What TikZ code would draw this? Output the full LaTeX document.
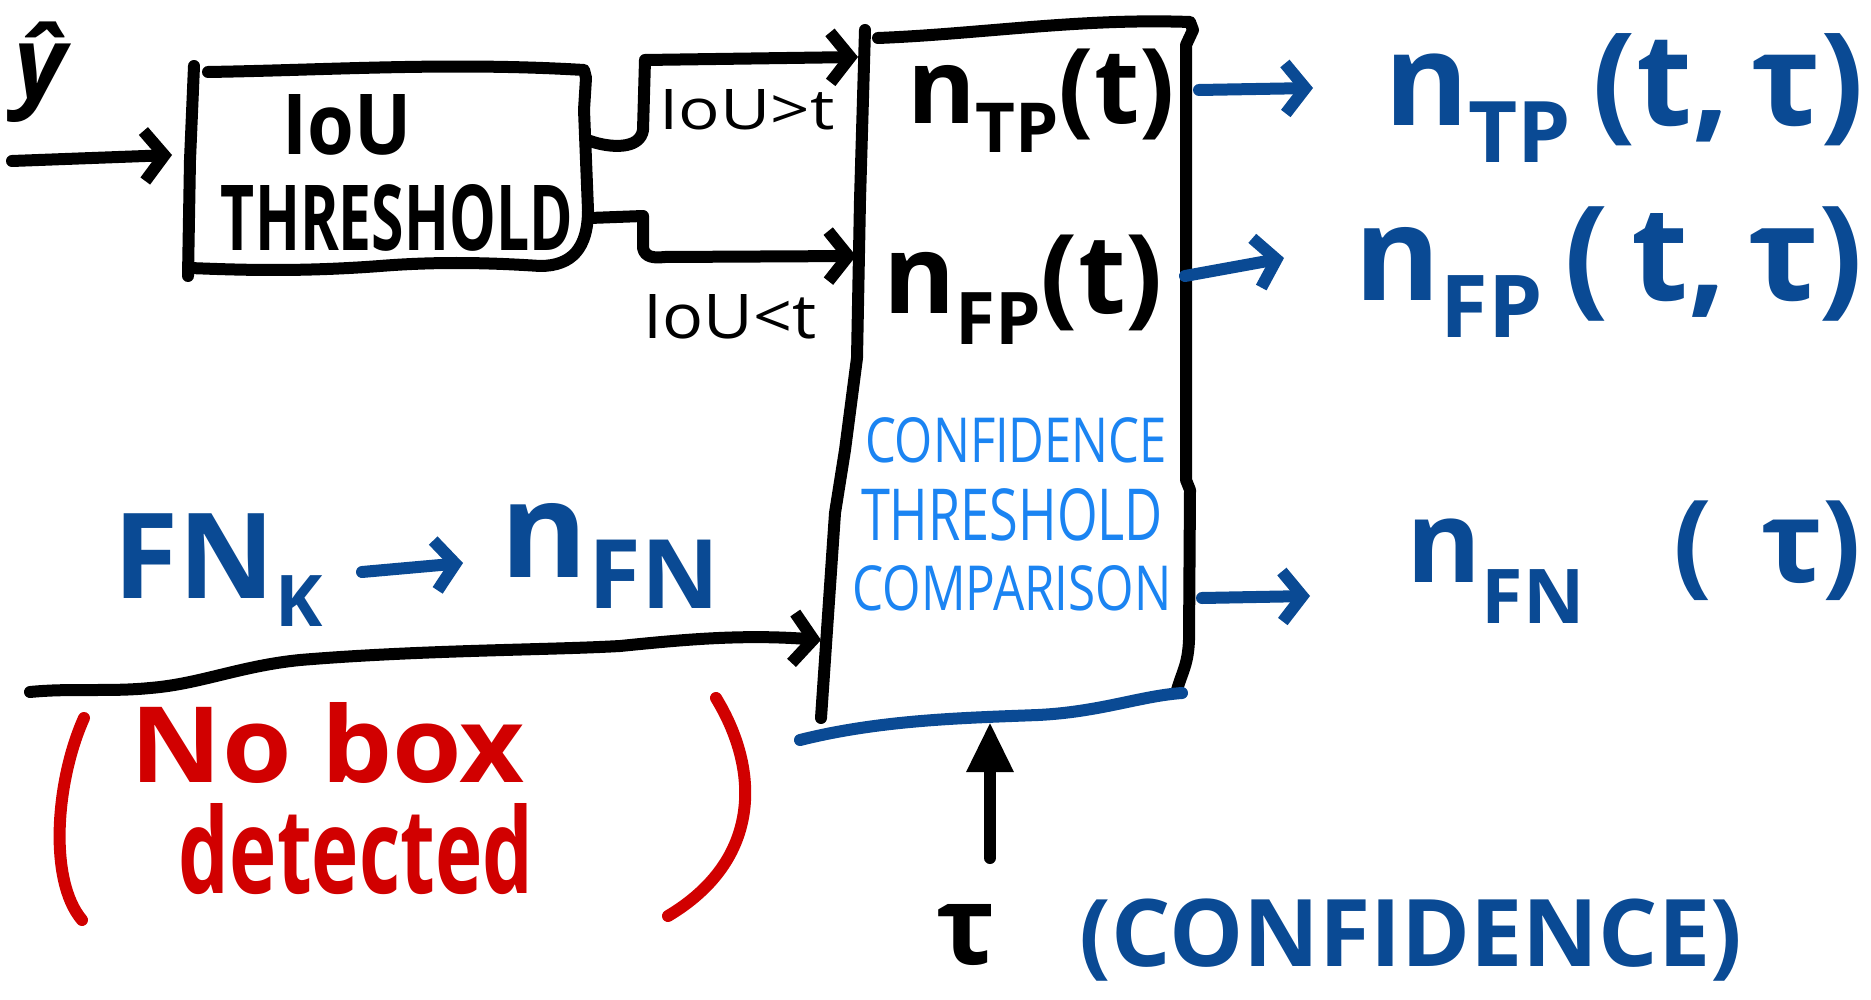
\documentclass[tikz,border=0pt]{standalone}
\usepackage{fontspec}
\usepackage{graphicx}
\setmainfont{Open Sans}
\usetikzlibrary{arrows.meta}
\definecolor{inkblue}{HTML}{0A4A94}
\definecolor{lightblue}{HTML}{1B84F2}
\definecolor{inkred}{HTML}{D10000}
\newcommand\fsz[1]{\fontsize{#1}{#1}\selectfont}
\newcommand\sbs[3]{\raisebox{-#3pt}{\fsz{#2}#1}}
\newcommand\fitwh[3]{\resizebox{#1pt}{#2pt}{#3}}
\newcommand\fitw[2]{\resizebox{#1pt}{!}{#2}}
\tikzset{
  pen/.style={line width=12pt, line cap=round, line join=round},
  barb/.style={-{Straight Barb[length=20pt,width=50pt,line width=12pt]}},
  lbl/.style={inner sep=0pt, anchor=center, font=\fsz{50}\bfseries},
  thin/.style={font=\fsz{50}\mdseries},
}
\begin{document}
\begin{tikzpicture}[x=1pt,y=-1pt]
\useasboundingbox[fill=white] (0,0) rectangle (1871,1000);

% ---------- IoU threshold box ----------
\draw[pen] (208,72) .. controls (330,70) and (450,62) .. (584,70) -- (586,78)
  -- (584,110) -- (588,210) .. controls (588,248) and (572,266) .. (540,266)
  .. controls (480,262) and (430,262) .. (380,266) .. controls (300,272) and (240,270) .. (190,268);
\draw[pen] (194,66) -- (190,160) -- (188,276);
\node[lbl] (iou1) at (347,125) {\fitwh{129}{60}{IoU}};
\node[lbl] (iou2) at (397,218) {\fitwh{352}{66}{THRESHOLD}};

% input
\node[lbl, font=\fsz{100}\bfseries\itshape] (yhat) at (40,72) {ŷ};
\coordinate (inS) at (12,161);
\coordinate (inE) at (172,155);
\draw[pen, barb] (inS) -- (inE);

% ---------- big box ----------
\draw[pen] (865,30) -- (860,200) -- (857,358) -- (845,450) -- (835,513) -- (821,718);
\draw[pen] (878,38) .. controls (980,34) and (1080,18) .. (1190,22) -- (1193,30)
  -- (1186,45) -- (1186,480) -- (1190,490) -- (1189,640) .. controls (1188,665) and (1182,672) .. (1177,690);
\draw[pen, inkblue] (800,740) .. controls (880,720) and (960,718) .. (1038,715)
  .. controls (1100,712) and (1140,696) .. (1182,693);

\node[lbl] (ntp) at (1041,101) {\fitw{268}{n\sbs{TP}{33}{14}(t)}};
\node[lbl] (nfp) at (1023,290) {\fitw{280}{n\sbs{FP}{33}{14}(t)}};
\node[lbl, thin, text=lightblue] (c1) at (1016,440) {\fitwh{302}{45}{CONFIDENCE}};
\node[lbl, thin, text=lightblue] (c2) at (1012,515) {\fitwh{302}{52}{THRESHOLD}};
\node[lbl, thin, text=lightblue] (c3) at (1012,588) {\fitwh{319}{45}{COMPARISON}};

% ---------- IoU branches ----------
\coordinate (tpS) at (590,141);
\coordinate (tpE) at (858,57);
\draw[pen, barb] (tpS) .. controls (610,148) and (640,150) .. (643,130) -- (645,60) -- (tpE);
\node[lbl, thin] (gt) at (747,110) {\fitwh{175}{40}{IoU>t}};
\coordinate (fpS) at (590,218);
\coordinate (fpE) at (856,256);
\draw[pen, barb] (fpS) -- (643,216) -- (643,248) .. controls (645,258) and (655,258) .. (665,257) -- (fpE);
\node[lbl, thin] (lt) at (730,317) {\fitwh{173}{44}{IoU<t}};

% ---------- outputs ----------
\coordinate (oTPs) at (1199,90);
\coordinate (oTPe) at (1313,88);
\draw[pen, inkblue, barb] (oTPs) -- (oTPe);
\node[lbl, text=inkblue] (ntpo) at (1624,98) {\fitw{480}{n\sbs{TP}{33}{14}\,(t,\,τ)}};
\coordinate (oFPs) at (1185,276);
\coordinate (oFPe) at (1284,258);
\draw[pen, inkblue, barb] (oFPs) -- (oFPe);
\node[lbl, text=inkblue] (nfpo) at (1609,272) {\fitw{509}{n\sbs{FP}{33}{14}\,(\,t,\,τ)}};
\coordinate (oFNs) at (1202,598);
\coordinate (oFNe) at (1310,596);
\draw[pen, inkblue, barb] (oFNs) -- (oFNe);
\node[lbl, text=inkblue] (nfno) at (1634,562) {\fitw{455}{n\sbs{FN}{33}{18}\ \ \ (\ \,τ)}};

% ---------- false negatives ----------
\node[lbl, text=inkblue] (fnk) at (218,570) {\fitw{209}{FN\sbs{K}{30}{12}}};
\node[lbl, text=inkblue] (nfn) at (610,556) {\fitw{218}{n\sbs{FN}{36}{12}}};
\coordinate (fkS) at (362,572);
\coordinate (fkE) at (463,563);
\draw[pen, inkblue, barb] (fkS) -- (fkE);
\coordinate (fnS) at (30,692);
\coordinate (fnE) at (821,640);
\draw[pen, barb] (fnS) .. controls (70,688) and (110,692) .. (150,688)
  .. controls (200,684) and (240,666) .. (300,660) .. controls (420,650) and (550,650) .. (620,646)
  .. controls (680,640) and (740,634) .. (fnE);

\draw[pen, inkred] (84,718) .. controls (56,780) and (48,880) .. (82,920);
\draw[pen, inkred] (716,698) .. controls (760,770) and (762,860) .. (668,916);
\node[lbl, anchor=base, text=inkred] (nobox) at (328,782) {\fitwh{394}{80}{No box}};
\node[lbl, anchor=base, text=inkred] (det) at (356,893) {\fitwh{354}{90}{detected}};

% ---------- confidence input ----------
\node[lbl, font=\fsz{110}\bfseries] (tau) at (966,935) {τ};
\node[lbl, text=inkblue] (conf) at (1411,940) {\fitw{662}{(CONFIDENCE)}};
\coordinate (upS) at (990,858);
\coordinate (upE) at (990,722);
\draw[pen, -{Triangle[length=50pt,width=44pt]}] (upS) -- (upE);
\end{tikzpicture}
\end{document}
